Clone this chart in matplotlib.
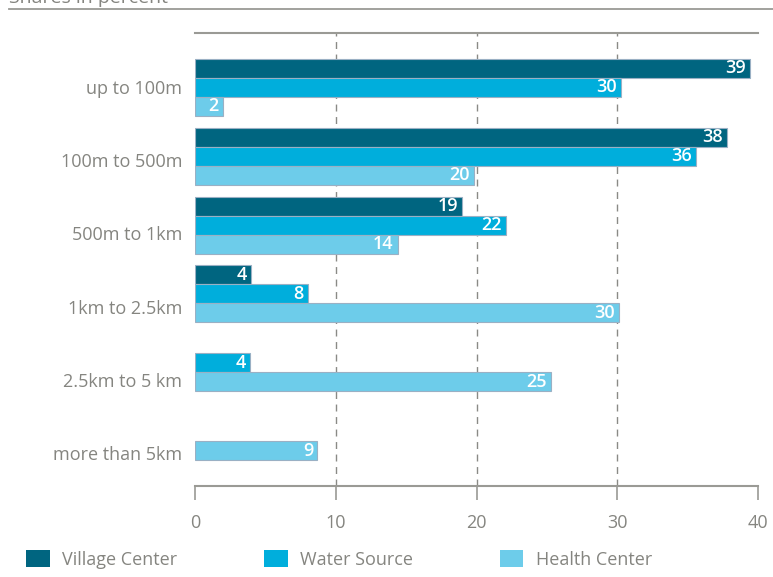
import numpy as np
import matplotlib
matplotlib.use("Agg")
import matplotlib.pyplot as plt
from matplotlib.lines import Line2D
from matplotlib.patches import Patch

plt.rcParams['font.family'] = ['Open Sans', 'DejaVu Sans']

# Data (shares in percent)
categories = ["up to 100m", "100m to 500m", "500m to 1km",
              "1km to 2.5km", "2.5km to 5 km", "more than 5km"]
series_names = ["Village Center", "Water Source", "Health Center"]
village_center = [39.4, 37.8, 19.0, 4.0, None, None]
water_source = [30.3, 35.6, 22.1, 8.0, 3.9, None]
health_center = [2.0, 19.8, 14.4, 30.1, 25.3, 8.7]
x_ticks = [0, 10, 20, 30, 40]

colors = ["#006580", "#00AEDC", "#6DCCEA"]
edge_color = "#9AB0C4"
text_gray = "#858580"
line_gray = "#9A9A95"

W, H = 773, 577
fig = plt.figure(figsize=(W / 100, H / 100), dpi=100)
ax = fig.add_axes([195 / W, 1 - 486 / H, (758 - 195) / W, (486 - 33) / H])

bar_h = 0.276
all_series = [village_center, water_source, health_center]
for k, (vals, name, col) in enumerate(zip(all_series, series_names, colors)):
    for i, v in enumerate(vals):
        if v is None:
            continue
        y = i + (k - 1) * bar_h
        ax.barh(y, v, height=bar_h, color=col, edgecolor=edge_color,
                linewidth=0.8, zorder=3)
        ax.annotate(f"{round(v)}", xy=(v, y), xytext=(-3, 0),
                    textcoords="offset points", ha="right", va="center",
                    color="white", fontsize=13, fontweight="semibold", zorder=4)

ax.set_xlim(0, 40)
ax.set_ylim(5.79, -0.79)
ax.set_xticks(x_ticks)
ax.set_xticklabels([str(t) for t in x_ticks])
ax.tick_params(axis="x", direction="out", length=10, width=1.2,
               color=line_gray, labelcolor=text_gray, labelsize=13, pad=10)

# category labels sit on a slightly wider spacing than the bar groups
ax.set_yticks([i * 1.061 for i in range(len(categories))])
ax.set_yticklabels(categories)
ax.tick_params(axis="y", length=0, pad=9, labelcolor=text_gray, labelsize=13)

for s in ["left", "right"]:
    ax.spines[s].set_visible(False)
for s in ["top", "bottom"]:
    ax.spines[s].set_color(line_gray)
    ax.spines[s].set_linewidth(1.5)

for t in x_ticks[1:-1]:
    ax.axvline(t, color="#8A8A86", linestyle=(0, (5, 4)), linewidth=1, zorder=1)

# header rule and clipped title
fig.add_artist(Line2D([9 / W, 1], [1 - 9 / H, 1 - 9 / H], color=line_gray,
                      linewidth=1.3))
fig.text(9 / W, 1 - 3 / H, "Shares in percent", color=text_gray, fontsize=14,
         va="baseline", ha="left")

handles = [Patch(facecolor=c, edgecolor="none") for c in colors]
fig.legend(handles, series_names, loc="lower left",
           bbox_to_anchor=(10 / W, -8 / H), ncol=3, frameon=False,
           fontsize=13, labelcolor=text_gray, handlelength=1.3,
           handleheight=1.1, handletextpad=0.7, columnspacing=4.8)

fig.savefig("out.png", dpi=100)
